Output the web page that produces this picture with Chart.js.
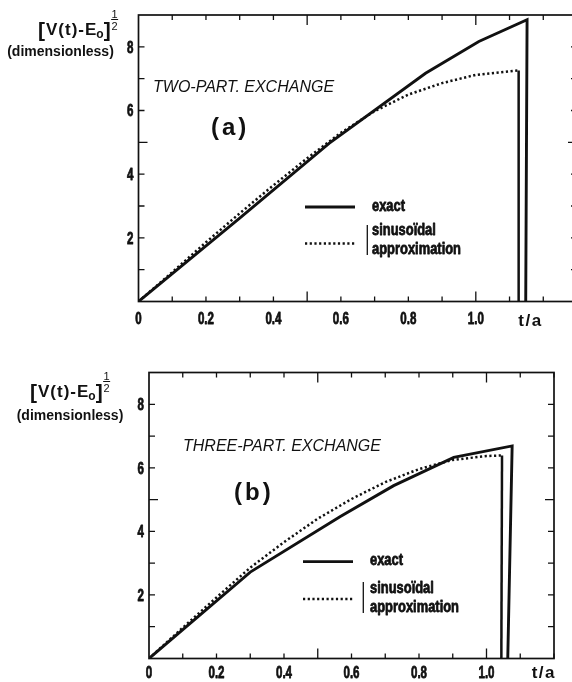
<!DOCTYPE html>
<html>
<head>
<meta charset="utf-8">
<script src="https://cdn.jsdelivr.net/npm/chart.js@4"></script>
<style>
  html, body { margin: 0; padding: 0; background: #fff; overflow: hidden; width: 572px; height: 682px; }
  canvas { position: absolute; left: 0; }
  #chartA { top: 0; }
  #chartB { top: 340px; }
</style>
</head>
<body>
<canvas id="chartA" width="600" height="340"></canvas>
<canvas id="chartB" width="572" height="342"></canvas>
<script>
// (a) two-part exchange: exact curve and its sinusoidal approximation
const tA_exact = [0, 0.3, 0.565, 0.851, 1.009, 1.152, 1.148];
const vA_exact = [0, 2.62, 4.97, 7.17, 8.17, 8.85, 0];
const tA_sin = [0, 0.1, 0.2, 0.3, 0.4, 0.5, 0.6, 0.7, 0.8, 0.9, 1.0, 1.127, 1.127];
const vA_sin = [0, 0.92, 1.86, 2.77, 3.65, 4.5, 5.3, 5.98, 6.5, 6.86, 7.12, 7.26, 0];

// (b) three-part exchange
const tB_exact = [0, 0.3, 0.567, 0.725, 0.903, 1.076, 1.063];
const vB_exact = [0, 2.72, 4.47, 5.44, 6.33, 6.69, 0];
const tB_sin = [0, 0.1, 0.2, 0.3, 0.4, 0.5, 0.6, 0.7, 0.8, 0.9, 1.0, 1.046, 1.044];
const vB_sin = [0, 0.97, 1.92, 2.86, 3.66, 4.4, 5.02, 5.55, 5.96, 6.25, 6.37, 6.39, 0];

// axis labelling
const xLabelled = [0, 0.2, 0.4, 0.6, 0.8, 1.0];
const yLabelled = [2, 4, 6, 8];
const xAxisName = 't/a';
const seriesNames = ['exact', 'sinusoïdal', 'approximation'];

const INK = '#111';
const SANS = "'Liberation Sans', Arial, sans-serif";
const DOTS = [2.2, 2.5];

const zip = (xs, ys) => xs.map((x, i) => ({ x, y: ys[i] }));

// text squeezed horizontally (and thickened a little) to imitate a condensed bold face
function narrow(ctx, s, x, y, size, align, sx) {
  ctx.save();
  ctx.font = 'bold ' + size + 'px ' + SANS;
  ctx.textBaseline = 'middle';
  ctx.textAlign = align;
  ctx.translate(x, y);
  ctx.scale(sx, 1);
  ctx.fillStyle = INK;
  ctx.strokeStyle = INK;
  ctx.lineWidth = 0.8;
  ctx.lineJoin = 'round';
  ctx.fillText(s, 0, 0);
  ctx.strokeText(s, 0, 0);
  ctx.restore();
}

// frame with inward ticks on all four sides, plus condensed tick labels
const frameTicks = {
  id: 'frameTicks',
  beforeDatasetsDraw(chart) {
    const { ctx, chartArea: a, scales: { x, y } } = chart;
    ctx.save();
    ctx.strokeStyle = INK;
    ctx.lineWidth = 1.7;
    ctx.strokeRect(a.left, a.top, a.right - a.left, a.bottom - a.top);
    ctx.lineWidth = 1.3;
    ctx.beginPath();
    const nx = Math.round(x.max * 10);
    for (let i = 1; i <= nx; i++) {
      const px = x.getPixelForValue(i / 10);
      const len = i % 5 === 0 ? 10 : 5;
      ctx.moveTo(px, a.bottom); ctx.lineTo(px, a.bottom - len);
      ctx.moveTo(px, a.top); ctx.lineTo(px, a.top + len);
    }
    for (let j = 1; j < y.max; j++) {
      const py = y.getPixelForValue(j);
      const len = j === 5 ? 9 : 6;
      ctx.moveTo(a.left, py); ctx.lineTo(a.left + len, py);
      ctx.moveTo(a.right, py); ctx.lineTo(a.right - len, py);
    }
    ctx.stroke();
    const o = chart.options.plugins.annotate;
    x.ticks.forEach(t => {
      const k = Math.round(t.value * 10) / 10;
      if (xLabelled.includes(k)) {
        narrow(ctx, k === 0 ? '0' : k.toFixed(1), x.getPixelForValue(t.value), a.bottom + o.xLabelGap, 17, 'center', 0.68);
      }
    });
    y.ticks.forEach(t => {
      const k = Math.round(t.value);
      if (yLabelled.includes(k)) {
        narrow(ctx, String(k), a.left - 5, y.getPixelForValue(t.value) + 1, 17, 'right', 0.68);
      }
    });
    ctx.restore();
  }
};

function text(ctx, s, x, y, font, align, spacing) {
  ctx.font = font;
  ctx.textAlign = align || 'left';
  ctx.textBaseline = 'middle';
  ctx.letterSpacing = (spacing || 0) + 'px';
  ctx.fillText(s, x, y);
  ctx.letterSpacing = '0px';
}

// [V(t)-E_o]^(1/2) axis title
function drawVTitle(ctx, x, base) {
  ctx.fillStyle = INK;
  ctx.textBaseline = 'alphabetic';
  ctx.textAlign = 'left';
  ctx.font = 'bold 21px ' + SANS;
  ctx.fillText('[', x, base + 2);
  let cx = x + ctx.measureText('[').width + 1;
  ctx.font = 'bold 17px ' + SANS;
  ctx.letterSpacing = '1px';
  ctx.fillText('V(t)-E', cx, base);
  cx += ctx.measureText('V(t)-E').width;
  ctx.letterSpacing = '0px';
  ctx.font = 'bold 12px ' + SANS;
  ctx.fillText('o', cx - 1, base + 3);
  cx += ctx.measureText('o').width - 1;
  ctx.font = 'bold 21px ' + SANS;
  ctx.fillText(']', cx, base + 2);
  cx += ctx.measureText(']').width + 1;
  ctx.font = '11px ' + SANS;
  ctx.textAlign = 'center';
  const fx = cx + 3;
  ctx.fillText('1', fx, base - 17);
  ctx.fillText('2', fx, base - 5);
  ctx.fillRect(fx - 3.5, base - 16, 7, 1);
}

const annotate = {
  id: 'annotate',
  afterDraw(chart, args, o) {
    const ctx = chart.ctx;
    const dy = -o.offsetY;
    ctx.save();
    ctx.fillStyle = INK;
    drawVTitle(ctx, o.vTitle[0], o.vTitle[1] + dy);
    text(ctx, '(dimensionless)', o.dimless[0], o.dimless[1] + dy, 'bold 14px ' + SANS, 'center');
    text(ctx, o.caption, o.cap[0], o.cap[1] + dy, 'italic 16px ' + SANS, 'left');
    text(ctx, o.tag, o.tagPos[0], o.tagPos[1] + dy, 'bold 24px ' + SANS, 'left', 3);
    // axis name in place of the 1.2 label
    text(ctx, xAxisName, chart.scales.x.getPixelForValue(o.axisNameAt), o.axisNameY + dy, 'bold 17px ' + SANS, 'center', 1.5);
    // legend samples
    const L = o.legend;
    ctx.strokeStyle = INK;
    ctx.lineWidth = 2.8;
    ctx.beginPath(); ctx.moveTo(L.x0, L.ySolid + dy); ctx.lineTo(L.x1, L.ySolid + dy); ctx.stroke();
    ctx.lineWidth = 2.4;
    ctx.setLineDash(DOTS);
    ctx.beginPath(); ctx.moveTo(L.x0, L.yDot + dy); ctx.lineTo(L.x1, L.yDot + dy); ctx.stroke();
    ctx.setLineDash([]);
    ctx.lineWidth = 1.3;
    ctx.beginPath(); ctx.moveTo(L.bar, L.barTop + dy); ctx.lineTo(L.bar, L.barBot + dy); ctx.stroke();
    narrow(ctx, seriesNames[0], L.tx, L.ySolid - 1 + dy, 17, 'left', 0.76);
    narrow(ctx, seriesNames[1], L.tx, L.y1 + dy, 17, 'left', 0.76);
    narrow(ctx, seriesNames[2], L.tx, L.y2 + dy, 17, 'left', 0.76);
    ctx.restore();
  }
};

function makeChart(id, c) {
  const lastSin = c.tSin.length - 1;
  return new Chart(document.getElementById(id), {
    type: 'line',
    data: {
      datasets: [
        { label: 'exact', data: zip(c.tExact, c.vExact), borderColor: INK, borderWidth: 2.9,
          pointRadius: 0, tension: 0, fill: false, borderJoinStyle: 'miter' },
        { label: 'sinusoïdal approximation', data: zip(c.tSin, c.vSin), borderColor: INK, borderWidth: 2.5,
          borderDash: DOTS, pointRadius: 0, tension: 0, fill: false,
          segment: { borderDash: s => (s.p1DataIndex === lastSin ? [] : undefined) } }
      ]
    },
    options: {
      responsive: false,
      animation: false,
      devicePixelRatio: 1,
      layout: { padding: { top: c.padTop, right: c.padRight, left: 0, bottom: 0 } },
      plugins: { legend: { display: false }, tooltip: { enabled: false }, annotate: c.notes },
      scales: {
        x: {
          type: 'linear', min: 0, max: c.xMax,
          afterFit: s => { s.height = c.xAxisH; },
          grid: { display: false, drawTicks: false }, border: { display: false },
          ticks: { stepSize: 0.1, autoSkip: false, display: false }
        },
        y: {
          type: 'linear', min: 0, max: 9,
          afterFit: s => { s.width = c.yAxisW; },
          grid: { display: false, drawTicks: false }, border: { display: false },
          ticks: { stepSize: 1, autoSkip: false, display: false }
        }
      }
    },
    plugins: [frameTicks, annotate]
  });
}

makeChart('chartA', {
  tExact: tA_exact, vExact: vA_exact, tSin: tA_sin, vSin: vA_sin,
  xMax: 1.3, padTop: 15, padRight: 23, yAxisW: 138.5, xAxisH: 38.5,
  notes: {
    offsetY: 0, xLabelGap: 18,
    vTitle: [38, 35], dimless: [60.5, 52],
    caption: 'TWO-PART. EXCHANGE', cap: [153, 88],
    tag: '(a)', tagPos: [211, 128],
    axisNameAt: 1.162, axisNameY: 321,
    legend: { x0: 305, x1: 355, ySolid: 207, yDot: 243.5, bar: 367.3, barTop: 225, barBot: 255,
              tx: 372, y1: 230, y2: 249 }
  }
});

makeChart('chartB', {
  tExact: tB_exact, vExact: vB_exact, tSin: tB_sin, vSin: vB_sin,
  xMax: 1.2, padTop: 32.5, padRight: 18, yAxisW: 149, xAxisH: 23.5,
  notes: {
    offsetY: 340, xLabelGap: 15,
    vTitle: [30, 397], dimless: [70, 416],
    caption: 'THREE-PART. EXCHANGE', cap: [183, 447],
    tag: '(b)', tagPos: [234, 493],
    axisNameAt: 1.17, axisNameY: 673,
    legend: { x0: 303, x1: 353, ySolid: 561.7, yDot: 599, bar: 363.3, barTop: 582, barBot: 613,
              tx: 370, y1: 588, y2: 607 }
  }
});
</script>
</body>
</html>
